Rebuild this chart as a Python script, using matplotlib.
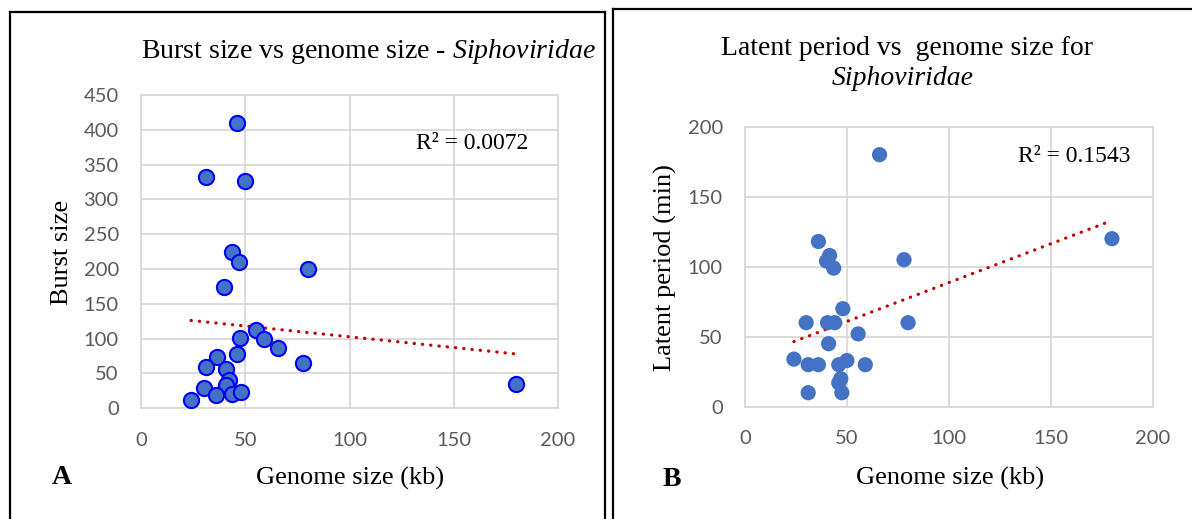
import numpy as np
import matplotlib
matplotlib.use("Agg")
import matplotlib.pyplot as plt
from matplotlib.lines import Line2D

# ---- data ----
genome_a = [46, 31, 50, 43.5, 47, 80, 40, 55, 47.5, 59, 65.5, 46, 36.5, 77.5,
            31, 41, 42, 41, 30, 43.5, 48, 36, 24, 180]
burst_a = [410, 332, 327, 224, 210, 200, 174, 113, 101, 100, 86, 78, 73, 65,
           60, 56, 41, 34, 29, 21, 23, 19, 12, 35]

genome_b = [66, 180, 36, 41.5, 40, 43.5, 78, 48, 30, 40.5, 44, 80, 55.5, 41,
            24, 31, 36, 46, 50, 59, 47, 46, 31, 47.5]
latent_b = [180, 120, 118, 108, 104, 99, 105, 70, 60, 60, 60, 60, 52, 45,
            34, 30, 30, 30, 33, 30, 20, 17, 10, 10]

x_ticks = [0, 50, 100, 150, 200]
y_ticks_a = [0, 50, 100, 150, 200, 250, 300, 350, 400, 450]
y_ticks_b = [0, 50, 100, 150, 200]
r2_a = "R² = 0.0072"
r2_b = "R² = 0.1543"

plt.rcParams['mathtext.fontset'] = 'custom'
plt.rcParams['mathtext.rm'] = 'Liberation Serif'
plt.rcParams['mathtext.it'] = 'Liberation Serif:italic'

W, H = 1192, 519
fig = plt.figure(figsize=(W / 100, H / 100), dpi=100)

def fx(px):
    return px / W

def fy(py):
    return 1 - py / H

serif = 'Liberation Serif'
tickfont = 'Lato'
grid_c = '#D9D9D9'
tick_c = '#595959'

def setup(ax, yticks, ymax):
    ax.set_xlim(0, 200)
    ax.set_ylim(0, ymax)
    ax.set_xticks(x_ticks)
    ax.set_yticks(yticks)
    ax.grid(True, color=grid_c, linewidth=1.3)
    ax.set_axisbelow(True)
    for s in ax.spines.values():
        s.set_color(grid_c)
        s.set_linewidth(1.3)
    ax.tick_params(length=0, labelsize=14.5, labelcolor=tick_c)
    ax.tick_params(axis='x', pad=17)
    ax.tick_params(axis='y', pad=16)
    for lab in ax.get_xticklabels() + ax.get_yticklabels():
        lab.set_fontfamily(tickfont)

def trend(ax, x, y):
    x = np.asarray(x, float)
    y = np.asarray(y, float)
    m, b = np.polyfit(x, y, 1)
    xs = np.array([x.min(), x.max()])
    ax.plot(xs, m * xs + b, color='#C00000', linewidth=2.3,
            linestyle=(0, (0.1, 2.5)), dash_capstyle='round', zorder=3)

# Panel A
axA = fig.add_axes([fx(141), fy(408.3), fx(558 - 141), (408.3 - 95) / H])
setup(axA, y_ticks_a, 450)
axA.scatter(genome_a, burst_a, s=120, facecolor='#4472C4', edgecolor='#0000FF',
            linewidth=1.5, zorder=4)
trend(axA, genome_a, burst_a)
axA.text(fx(472), fy(143), r2_a, transform=fig.transFigure, ha='center',
         va='center', fontsize=17, family=serif)

# Panel B
axB = fig.add_axes([fx(745), fy(406.7), fx(1152.7 - 745), (406.7 - 126.7) / H])
setup(axB, y_ticks_b, 200)
axB.scatter(genome_b, latent_b, s=120, facecolor='#4472C4', edgecolor='none',
            zorder=4)
trend(axB, genome_b, latent_b)
axB.text(fx(1074), fy(157), r2_b, transform=fig.transFigure, ha='center',
         va='center', fontsize=17, family=serif)

# Titles
fig.text(fx(368.5), fy(58), r"Burst size vs genome size - $\it{Siphoviridae}$",
         ha='center', va='baseline', fontsize=20.1, family=serif)
fig.text(fx(907), fy(55), "Latent period vs  genome size for",
         ha='center', va='baseline', fontsize=20, family=serif)
fig.text(fx(903), fy(85), "Siphoviridae", ha='center', va='baseline',
         fontsize=20, family=serif, style='italic')

# Axis labels
fig.text(fx(350), fy(478), "Genome size (kb)", ha='center', va='center',
         fontsize=19, family=serif)
fig.text(fx(950), fy(478), "Genome size (kb)", ha='center', va='center',
         fontsize=19, family=serif)
fig.text(fx(62), fy(252), "Burst size", ha='center', va='center',
         fontsize=19, family=serif, rotation=90)
fig.text(fx(665), fy(268), "Latent period (min)", ha='center', va='center',
         fontsize=19, family=serif, rotation=90)

# Panel letters
fig.text(fx(62), fy(478), "A", ha='center', va='center', fontsize=20,
         family=serif, weight='bold')
fig.text(fx(672), fy(480), "B", ha='center', va='center', fontsize=20,
         family=serif, weight='bold')

# Panel borders
def border(x0, x1, ytop):
    kw = dict(transform=fig.transFigure, color='black', linewidth=1.6)
    fig.add_artist(Line2D([fx(x0), fx(x0)], [fy(ytop), 0], **kw))
    fig.add_artist(Line2D([fx(x0), fx(x1)], [fy(ytop), fy(ytop)], **kw))
    fig.add_artist(Line2D([fx(x1), fx(x1)], [fy(ytop), 0], **kw))

border(10, 605, 12)
border(612.7, 1200, 9)

fig.savefig("out.png", dpi=100)
